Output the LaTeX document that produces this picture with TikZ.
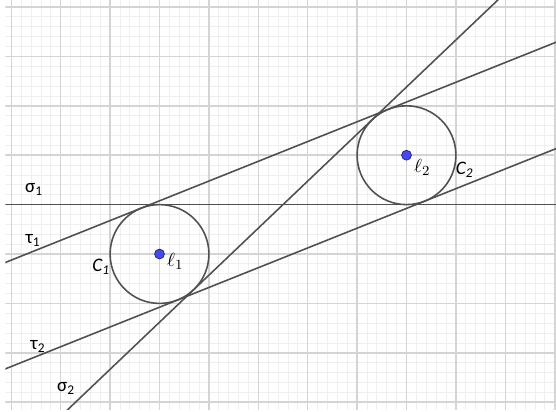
\documentclass[tikz,border=0pt]{standalone}
\usepackage{fontspec}
\setmainfont{Carlito}
\usetikzlibrary{calc}
\definecolor{GridMajor}{HTML}{D4D4D4}
\definecolor{GridMinor}{HTML}{EFEFEF}
\definecolor{LineGray}{HTML}{505050}
\definecolor{PointBlue}{HTML}{4848F2}

\begin{document}
\begin{tikzpicture}[
    every node/.style={font=\fontsize{11}{13}\selectfont, inner sep=1pt},
    minorgrid/.style={draw=GridMinor, line width=0.5pt},
    majorgrid/.style={draw=GridMajor, line width=0.9pt},
    curve/.style={draw=LineGray, line width=0.9pt},
    pt/.style={circle, fill=PointBlue, draw=PointBlue!45!black,
               line width=0.4pt, inner sep=0pt, minimum size=0.2cm},
]
\useasboundingbox (-3.229,-3.198) rectangle (8.026,5.142);

%% Grid
\begin{scope}
  \clip (-3.12,-3.15) rectangle (8.03,5.15);
  \draw[minorgrid, step=0.2] (-3.4,-3.4) grid (8.4,5.4);
  \draw[majorgrid, step=1]   (-3.4,-3.4) grid (8.4,5.4);
\end{scope}

%% Centres and centre of similitude
\coordinate (l1) at (0,0);
\coordinate (l2) at (5,2);
\coordinate (S)  at (2.5,1);

%% Tangent end points
\coordinate (s1a) at (-3.5,1);
\coordinate (s1b) at (8.5,1);
\coordinate (s2a) at ($(S)+(223.603:7)$);
\coordinate (s2b) at ($(S)+(43.603:7)$);
\coordinate (t1a) at (-3.5,-0.3230);
\coordinate (t1b) at (8.5,4.4770);
\coordinate (t2a) at (-3.5,-2.4770);
\coordinate (t2b) at (8.5,2.3230);

%% Lines and circles
\begin{scope}
  \clip (-3.12,-3.15) rectangle (8.03,5.15);
  \draw[curve] (s1a) -- (s1b);
  \draw[curve] (s2a) -- (s2b);
  \draw[curve] (t1a) -- (t1b);
  \draw[curve] (t2a) -- (t2b);
  \draw[curve] (l1) circle (1);
  \draw[curve] (l2) circle (1);
\end{scope}

%% Points
\node[pt] (p1) at (l1) {};
\node[pt] (p2) at (l2) {};

%% Labels
\node (sig1) at (-2.54,1.30)  {σ\textsubscript{1}};
\node (tau1) at (-2.56,0.28)  {τ\textsubscript{1}};
\node (tau2) at (-2.46,-1.88) {τ\textsubscript{2}};
\node (sig2) at (-1.89,-2.73) {σ\textsubscript{2}};
\node (c1)   at (-1.18,-0.26) {\itshape C\textsubscript{1}};
\node (c2)   at (6.18,1.70)   {\itshape C\textsubscript{2}};
\node (ell1) at (0.32,-0.15)  {$\ell_1$};
\node (ell2) at (5.32,1.75)   {$\ell_2$};

\end{tikzpicture}
\end{document}
